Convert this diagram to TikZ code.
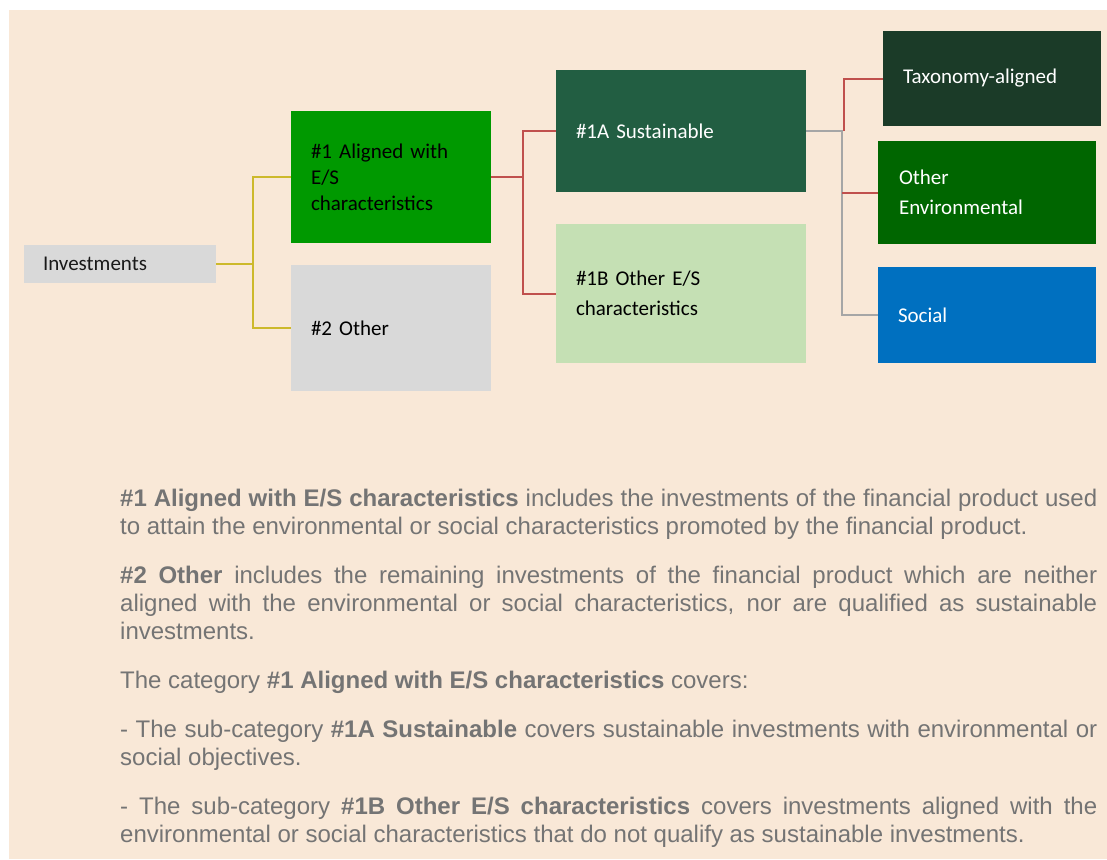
\documentclass[tikz,border=0pt]{standalone}
\usepackage{fontspec}
\setmainfont{Liberation Sans}
\newfontfamily\calfont{Carlito}
\definecolor{peach}{HTML}{F9E8D7}
\definecolor{lgray}{HTML}{D9D9D9}
\definecolor{brgreen}{HTML}{009900}
\definecolor{sustgreen}{HTML}{225E42}
\definecolor{palegreen}{HTML}{C5E0B4}
\definecolor{taxgreen}{HTML}{1B3B28}
\definecolor{envgreen}{HTML}{006600}
\definecolor{socblue}{HTML}{0070C0}
\definecolor{yelline}{HTML}{CDB92C}
\definecolor{redline}{HTML}{C0504D}
\definecolor{grayline}{HTML}{A6A6A6}
\definecolor{bodygray}{HTML}{747474}
\begin{document}
\begin{tikzpicture}[x=1pt,y=-1pt,
  box/.style={rectangle, draw=none, inner xsep=20pt, inner ysep=0pt, align=left, anchor=center,
    font=\calfont\fontsize{21}{26}\selectfont},
  wide/.style={font=\calfont\fontsize{21}{30}\selectfont},
  conn/.style={line width=2pt},
  yconn/.style={conn, draw=yelline},
  rconn/.style={conn, draw=redline},
  gconn/.style={conn, draw=grayline}]
\useasboundingbox (0,0) rectangle (1107,859);
\fill[peach] (9,10) rectangle (1107,859);
% boxes
\node[box, fill=lgray, minimum width=192pt, minimum height=38pt, text width=154pt, inner xsep=19pt, text=black!90] (inv) at (120,264) {Investments};
\node[box, fill=brgreen, minimum width=200pt, minimum height=132pt, text width=160pt, text=black] (a1) at (391,177) {\#1 Aligned with\\E/S\\characteristics};
\node[box, fill=lgray, minimum width=200pt, minimum height=126pt, text width=160pt, text=black] (a2) at (391,328) {\#2 Other};
\node[box, fill=sustgreen, minimum width=250pt, minimum height=122pt, text width=210pt, text=white] (s1a) at (681,131) {\#1A Sustainable};
\node[box, wide, fill=palegreen, minimum width=250pt, minimum height=139pt, text width=210pt, text=black] (s1b) at (681,293.5) {\#1B Other E/S\\characteristics};
\node[box, fill=taxgreen, minimum width=218pt, minimum height=95pt, text width=178pt, text=white] (tax) at (992,78.5) {Taxonomy-aligned};
\node[box, wide, fill=envgreen, minimum width=218pt, minimum height=103pt, text width=176pt, inner xsep=21pt, text=white] (oe) at (987,192.5) {Other\\Environmental};
\node[box, fill=socblue, minimum width=218pt, minimum height=96pt, text width=178pt, text=white] (soc) at (987,315) {Social};
% connectors
\draw[yconn] (inv.east) -- ++(37,0) coordinate (yj) |- (a1.west);
\draw[yconn] (yj) |- (a2.west);
\draw[rconn] (a1.east) -- ++(32,0) coordinate (rj) |- (s1a.west);
\draw[rconn] (rj) |- (s1b.west);
\draw[gconn] (s1a.east) -- ++(36,0) coordinate (gj) |- (soc.west);
\draw[rconn] ([xshift=2pt]gj) |- (tax.west);
\draw[rconn] (gj |- oe.west) -- (oe.west);
% explanatory text
\node[anchor=north west, inner sep=0pt, text width=977pt, align=justify, text=bodygray,
  font=\fontsize{24}{28}\selectfont] (txt) at (120,488.5) {%
  \setlength{\parskip}{21pt}\setlength{\parindent}{0pt}%
  \textbf{\#1 Aligned with E/S characteristics} includes the investments of the financial product used\linebreak
  to attain the environmental or social characteristics promoted by the financial product.\par
  \textbf{\#2 Other} includes the remaining investments of the financial product which are neither\linebreak
  aligned with the environmental or social characteristics, nor are qualified as sustainable\linebreak
  investments.\par
  The category \textbf{\#1 Aligned with E/S characteristics} covers:\par
  - The sub-category \textbf{\#1A Sustainable} covers sustainable investments with environmental or\linebreak
  social objectives.\par
  - The sub-category \textbf{\#1B Other E/S characteristics} covers investments aligned with the\linebreak
  environmental or social characteristics that do not qualify as sustainable investments.\par};
\end{tikzpicture}
\end{document}
